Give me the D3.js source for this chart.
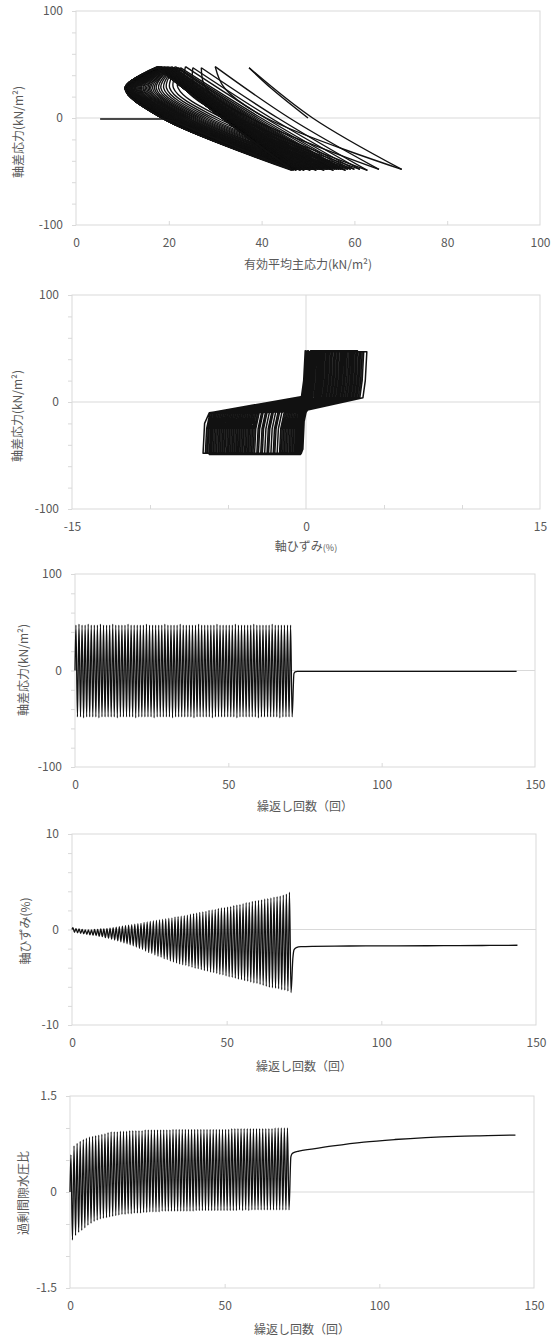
<!DOCTYPE html>
<html>
<head>
<meta charset="utf-8">
<script src="https://cdn.jsdelivr.net/npm/d3@7"></script>
<style>
body { margin: 0; background: #fff; }
</style>
</head>
<body>
<svg id="chart" width="560" height="1338"></svg>
<script>
// peaks of each loading cycle (71 cycles)
var qMax = [47,48,47,47,48,47,47,47,48,47, 47,47,48,47,47,47,47,48,47,47,
            47,47,47,48,47,47,47,47,47,48, 47,47,47,47,48,47,47,47,47,47,
            48,47,47,47,47,47,48,47,47,47, 47,47,48,47,47,47,47,47,48,47,
            47,47,47,47,48,47,47,47,47,47, 47];
var qMin = [-48,-48,-49,-48,-48,-48,-48,-49,-48,-48, -48,-48,-48,-49,-48,-48,-48,-48,-48,-49,
            -48,-48,-48,-48,-48,-49,-48,-48,-48,-48, -48,-49,-48,-48,-48,-48,-48,-48,-49,-48,
            -48,-48,-48,-48,-49,-48,-48,-48,-48,-48, -48,-48,-49,-48,-48,-48,-48,-48,-48,-49,
            -48,-48,-48,-48,-48,-48,-49,-48,-48,-48, -48];

// axial strain (%) at the top and bottom of each cycle
var strainMax = [0.2,0.1,0.05,0.0,-0.05,-0.05,-0.05,0.0,0.0,0.05,
                 0.05,0.1,0.15,0.2,0.25,0.3,0.35,0.4,0.45,0.5,
                 0.55,0.6,0.65,0.75,0.8,0.85,0.9,0.95,1.0,1.05,
                 1.1,1.15,1.2,1.3,1.35,1.4,1.45,1.5,1.6,1.65,
                 1.7,1.8,1.85,1.9,2.0,2.05,2.1,2.2,2.25,2.3,
                 2.35,2.4,2.5,2.55,2.6,2.7,2.8,2.85,2.95,3.0,
                 3.05,3.1,3.2,3.25,3.3,3.4,3.45,3.5,3.6,3.7,
                 3.9];
var strainMin = [-0.3,-0.35,-0.4,-0.45,-0.5,-0.55,-0.6,-0.65,-0.7,-0.75,
                 -0.85,-0.9,-1.0,-1.1,-1.2,-1.3,-1.4,-1.5,-1.6,-1.7,
                 -1.85,-2.0,-2.1,-2.25,-2.4,-2.5,-2.65,-2.8,-2.9,-3.05,
                 -3.15,-3.3,-3.4,-3.5,-3.6,-3.7,-3.75,-3.85,-3.95,-4.05,
                 -4.1,-4.2,-4.3,-4.35,-4.45,-4.5,-4.6,-4.7,-4.75,-4.85,
                 -4.95,-5.0,-5.1,-5.2,-5.25,-5.35,-5.4,-5.5,-5.6,-5.65,
                 -5.75,-5.85,-5.95,-6.05,-6.1,-6.15,-6.2,-6.3,-6.35,-6.45,
                 -6.6];

// excess pore water pressure ratio
var ruMax = [0.58,0.72,0.76,0.79,0.82,0.84,0.86,0.87,0.88,0.89,
             0.90,0.91,0.93,0.94,0.94,0.94,0.95,0.95,0.95,0.96,
             0.96,0.96,0.96,0.96,0.97,0.97,0.97,0.97,0.97,0.97,
             0.97,0.97,0.97,0.98,0.98,0.98,0.98,0.98,0.98,0.98,
             0.98,0.98,0.98,0.98,0.98,0.98,0.98,0.98,0.98,0.98,
             0.98,0.98,0.99,0.99,0.99,0.99,0.99,0.99,0.99,0.99,
             0.99,0.99,0.99,0.99,0.99,0.99,1.0,1.0,1.0,1.0,
             1.0];
var ruMin = [-0.75,-0.68,-0.63,-0.60,-0.56,-0.52,-0.49,-0.46,-0.44,-0.42,
             -0.41,-0.40,-0.39,-0.38,-0.37,-0.36,-0.35,-0.35,-0.34,-0.34,
             -0.33,-0.33,-0.33,-0.32,-0.32,-0.31,-0.31,-0.31,-0.31,-0.30,
             -0.30,-0.30,-0.30,-0.30,-0.30,-0.30,-0.30,-0.30,-0.30,-0.30,
             -0.29,-0.29,-0.29,-0.29,-0.29,-0.29,-0.29,-0.29,-0.29,-0.29,
             -0.29,-0.29,-0.29,-0.29,-0.28,-0.29,-0.28,-0.29,-0.28,-0.28,
             -0.28,-0.28,-0.28,-0.28,-0.28,-0.28,-0.28,-0.28,-0.28,-0.28,
             -0.28];

// effective mean principal stress p' (kN/m2) along each stress-path loop
var pTop = [37.3,30.0,27.0,25.2,23.6,22.5,22.0,21.7,21.4,21.2,
            21.0,20.8,20.6,20.5,20.3,20.2,20.0,19.9,19.8,19.7,
            19.6,19.5,19.4,19.3,19.2,19.1,19.0,18.95,18.9,18.85,
            18.8,18.75,18.7,18.65,18.6,18.55,18.5,18.45,18.4,18.35,
            18.3,18.25,18.2,18.15,18.1,18.05,18.0,17.95,17.9,17.9,
            17.85,17.85,17.8,17.8,17.75,17.75,17.7,17.7,17.65,17.65,
            17.6,17.6,17.6,17.55,17.55,17.55,17.5,17.5,17.5,17.5,
            17.5];
var pBottom = [70.2,65.3,62.8,61.2,60.0,59.2,58.6,58.1,57.6,57.1,
               56.7,56.3,55.9,55.5,55.1,54.8,54.4,54.1,53.8,53.5,
               53.2,52.9,52.6,52.3,52.1,51.8,51.6,51.3,51.1,50.9,
               50.7,50.5,50.3,50.1,49.9,49.7,49.6,49.4,49.2,49.1,
               48.9,48.8,48.6,48.5,48.4,48.2,48.1,48.0,47.9,47.8,
               47.7,47.6,47.5,47.4,47.3,47.2,47.1,47.0,47.0,46.9,
               46.8,46.8,46.7,46.7,46.6,46.6,46.5,46.5,46.4,46.4,
               46.3];
var pRiseZero = [50.0,41.0,37.5,35.0,33.0,31.5,30.5,29.6,28.8,28.1,
                 27.5,26.9,26.4,25.9,25.5,25.1,24.7,24.3,24.0,23.7,
                 23.4,23.1,22.8,22.6,22.3,22.1,21.9,21.7,21.5,21.3,
                 21.1,21.0,20.8,20.7,20.5,20.4,20.3,20.1,20.0,19.9,
                 19.8,19.7,19.6,19.5,19.4,19.3,19.3,19.2,19.1,19.1,
                 19.0,19.0,18.9,18.9,18.8,18.8,18.8,18.7,18.7,18.7,
                 18.6,18.6,18.6,18.6,18.5,18.5,18.5,18.5,18.5,18.5,
                 18.5];
var pNose = [42.0,32.0,28.0,25.5,23.5,22.0,21.0,20.2,19.5,18.9,
             18.3,17.8,17.3,16.9,16.5,16.1,15.8,15.5,15.2,14.9,
             14.6,14.4,14.1,13.9,13.7,13.5,13.3,13.1,12.9,12.8,
             12.6,12.5,12.3,12.2,12.1,12.0,11.9,11.8,11.7,11.6,
             11.5,11.4,11.4,11.3,11.2,11.2,11.1,11.1,11.0,11.0,
             10.9,10.9,10.9,10.8,10.8,10.8,10.8,10.7,10.7,10.7,
             10.7,10.7,10.6,10.6,10.6,10.6,10.6,10.6,10.6,10.6,
             10.6];
var pFallZero = [51.0,46.0,43.5,42.0,40.8,39.9,39.2,38.6,38.1,37.7,
                 37.3,36.9,36.6,36.3,36.0,35.7,35.5,35.2,35.0,34.8,
                 34.6,34.4,34.2,34.1,33.9,33.8,33.6,33.5,33.4,33.2,
                 33.1,33.0,32.9,32.8,32.7,32.6,32.5,32.4,32.4,32.3,
                 32.2,32.2,32.1,32.0,32.0,31.9,31.9,31.8,31.8,31.8,
                 31.7,31.7,31.7,31.6,31.6,31.6,31.6,31.6,31.5,31.5,
                 31.5,31.5,31.5,31.5,31.5,31.5,31.5,31.5,31.5,31.5,
                 31.5];
var noseQ = 28;

// after liquefaction (cycle 71 onward)
var postCycle = [71.4, 71.8, 72.5, 74, 78, 85, 95, 105, 115, 125, 135, 144];
var postQ = [-3, -1.5, -1, -1, -1, -1, -1, -1, -1, -1, -1, -1];
var postStrain = [-3.0, -2.1, -1.9, -1.8, -1.76, -1.74, -1.72, -1.71, -1.7, -1.69, -1.67, -1.65];
var postRu = [0.55, 0.6, 0.62, 0.64, 0.67, 0.72, 0.78, 0.82, 0.85, 0.87, 0.88, 0.89];
var postP = [21, 19.5, 18.8, 18, 16.5, 14, 11, 9, 7.5, 6.5, 5.8, 5.2];

// tick values
var cycleLabels = [0, 50, 100, 150];
var cycleTicks = [50, 100];
var qLabels = [-100, 0, 100];
var qTicks = [-100, -80, -60, -40, -20, 0, 20, 40, 60, 80, 100];

var FONT = '"Noto Sans CJK JP", "Noto Sans", sans-serif';
var GRID = "#d9d9d9";
var TEXT = "#595959";
var INK = "#111";

var svg = d3.select("#chart");

function drawPanel(p) {
  var x = d3.scaleLinear().domain(p.xDomain).range([p.left, p.right]);
  var y = d3.scaleLinear().domain(p.yDomain).range([p.bottom, p.top]);
  var g = svg.append("g");

  g.append("line")
    .attr("x1", p.left).attr("x2", p.right)
    .attr("y1", y(0)).attr("y2", y(0))
    .attr("stroke", GRID);
  if (p.zeroX) {
    g.append("line")
      .attr("x1", x(0)).attr("x2", x(0))
      .attr("y1", p.top).attr("y2", p.bottom)
      .attr("stroke", GRID);
  }
  g.append("rect")
    .attr("x", p.left).attr("y", p.top)
    .attr("width", p.right - p.left).attr("height", p.bottom - p.top)
    .attr("fill", "none").attr("stroke", GRID);

  // y ticks outside, labels at min / 0 / max
  g.append("g").attr("transform", `translate(${p.left},0)`)
    .call(d3.axisLeft(y).tickValues(p.yTicks).tickSize(4).tickFormat(""))
    .call(a => a.select(".domain").remove())
    .selectAll("line").attr("stroke", GRID);
  g.append("g").attr("transform", `translate(${p.left},0)`)
    .call(d3.axisLeft(y).tickValues(p.yLabels).tickSize(0).tickPadding(13).tickFormat(d => String(d)))
    .call(a => a.select(".domain").remove())
    .selectAll("text")
    .attr("fill", TEXT).style("font-size", "12px").style("font-family", FONT);

  // x ticks inside
  g.append("g").attr("transform", `translate(0,${p.bottom})`)
    .call(d3.axisBottom(x).tickValues(p.xTicks).tickSize(-4).tickFormat(""))
    .call(a => a.select(".domain").remove())
    .selectAll("line").attr("stroke", GRID);
  g.append("g").attr("transform", `translate(0,${p.bottom})`)
    .call(d3.axisBottom(x).tickValues(p.xLabels).tickSize(0).tickFormat(d => String(d)))
    .call(a => a.select(".domain").remove())
    .selectAll("text")
    .attr("y", 18).attr("dy", "0.35em")
    .attr("fill", TEXT).style("font-size", "12px").style("font-family", FONT);

  // axis titles
  var xt = g.append("text")
    .attr("x", p.xTitleX).attr("y", p.bottom + p.xTitleDy)
    .attr("dy", "0.35em").attr("text-anchor", "middle")
    .attr("fill", TEXT).style("font-size", "12px").style("font-family", FONT)
    .text(p.xTitle);
  if (p.xTitleSmall) {
    xt.append("tspan").style("font-size", "9px").text(p.xTitleSmall);
  }
  g.append("text")
    .attr("transform", `translate(${p.yTitleX},${p.yTitleY}) rotate(-90)`)
    .attr("dy", "0.35em").attr("text-anchor", "middle")
    .attr("fill", TEXT).style("font-size", "12px").style("font-family", FONT)
    .text(p.yTitle);

  return {g: g, x: x, y: y};
}

function clamp(v, lo, hi) { return Math.max(lo, Math.min(hi, v)); }
var last = qMax.length - 1;

// ---- 1. stress path ----
var c1 = drawPanel({
  left: 76, right: 540, top: 11, bottom: 225,
  xDomain: [0, 100], yDomain: [-100, 100],
  xLabels: [0, 20, 40, 60, 80, 100], xTicks: [20, 40, 60, 80],
  yLabels: qLabels, yTicks: qTicks,
  xTitle: "有効平均主応力(kN/m²)", xTitleX: 308, xTitleDy: 40,
  yTitle: "軸差応力(kN/m²)", yTitleX: 19, yTitleY: 132
});
// loading branches (trough -> top) and unloading branches (top -> trough)
var pieces1 = [];
for (var i = 0; i <= last; i++) {
  var rise = i === 0 ? [[pRiseZero[0], 0]] : [[pBottom[i - 1], qMin[i - 1]], [pRiseZero[i], 0]];
  rise.push([pNose[i], noseQ], [pTop[i], qMax[i]]);
  pieces1.push(rise);
  pieces1.push([[pTop[i], qMax[i]], [pFallZero[i], 0], [pBottom[i], qMin[i]]]);
}
var line1 = d3.line().x(d => c1.x(d[0])).y(d => c1.y(d[1])).curve(d3.curveCatmullRom.alpha(0.5));
c1.g.selectAll(".loop").data(pieces1).enter().append("path")
  .attr("class", "loop").attr("d", line1)
  .attr("fill", "none").attr("stroke", INK).attr("stroke-width", 1.4);
var tail1 = [[pBottom[last], qMin[last]]].concat(postP.map((v, k) => [v, postQ[k]]));
c1.g.append("path")
  .attr("d", d3.line().x(d => c1.x(d[0])).y(d => c1.y(d[1]))(tail1))
  .attr("fill", "none").attr("stroke", INK).attr("stroke-width", 1.6);

// ---- 2. stress-strain ----
var c2 = drawPanel({
  left: 72, right: 540, top: 295, bottom: 509,
  xDomain: [-15, 15], yDomain: [-100, 100], zeroX: true,
  xLabels: [-15, 0, 15], xTicks: [-10, -5, 5, 10],
  yLabels: qLabels, yTicks: qTicks,
  xTitle: "軸ひずみ", xTitleSmall: "(%)", xTitleX: 306, xTitleDy: 38,
  yTitle: "軸差応力(kN/m²)", yTitleX: 17.5, yTitleY: 416
});
var pts2 = [[0, 0]];
for (var i = 0; i <= last; i++) {
  var lo = i === 0 ? strainMin[0] : strainMin[i - 1];
  var hi = strainMax[i];
  var up = [[lo + 0.08, -25], [lo + 0.3, -10], [-0.15, 5.5], [0.02, 10], [0.1, 42], [0.3, qMax[i]], [hi, qMax[i]]];
  if (i === 0) up = up.slice(3);
  up.forEach(d => pts2.push([clamp(d[0], lo, hi), d[1]]));
  var lo2 = strainMin[i];
  var down = [[hi - 0.1, 20], [hi - 0.25, 4], [0.1, -7.5], [-0.1, -12], [-0.2, -44], [-0.35, qMin[i]], [lo2, qMin[i]]];
  down.forEach(d => pts2.push([clamp(d[0], lo2, hi), d[1]]));
}
pts2.push([strainMin[last] + 0.1, -20], [strainMin[last] + 0.4, -10]);
postStrain.forEach((v, k) => pts2.push([v, postQ[k]]));
c2.g.append("path")
  .attr("d", d3.line().x(d => c2.x(d[0])).y(d => c2.y(d[1]))(pts2))
  .attr("fill", "none").attr("stroke", INK).attr("stroke-width", 1.5)
  .attr("stroke-linejoin", "round");

// ---- 3-5. time histories ----
function history(c, maxs, mins, postVals) {
  var pts = [[0, 0]];
  for (var i = 0; i < maxs.length; i++) {
    pts.push([i + 0.3, maxs[i]], [i + 0.8, mins[i]]);
  }
  postCycle.forEach((v, k) => pts.push([v, postVals[k]]));
  c.g.append("path")
    .attr("d", d3.line().x(d => c.x(d[0])).y(d => c.y(d[1])).curve(d3.curveMonotoneX)(pts))
    .attr("fill", "none").attr("stroke", INK).attr("stroke-width", 1.3);
}

var c3 = drawPanel({
  left: 75, right: 535, top: 574, bottom: 767,
  xDomain: [0, 150], yDomain: [-100, 100],
  xLabels: cycleLabels, xTicks: cycleTicks,
  yLabels: qLabels, yTicks: qTicks,
  xTitle: "繰返し回数（回）", xTitleX: 305, xTitleDy: 40,
  yTitle: "軸差応力(kN/m²)", yTitleX: 24, yTitleY: 670
});
history(c3, qMax, qMin, postQ);

var c4 = drawPanel({
  left: 72, right: 536, top: 834, bottom: 1025,
  xDomain: [0, 150], yDomain: [-10, 10],
  xLabels: cycleLabels, xTicks: cycleTicks,
  yLabels: [-10, 0, 10], yTicks: [-10, -8, -6, -4, -2, 0, 2, 4, 6, 8, 10],
  xTitle: "繰返し回数（回）", xTitleX: 304, xTitleDy: 42,
  yTitle: "軸ひずみ(%)", yTitleX: 25.5, yTitleY: 931
});
history(c4, strainMax, strainMin, postStrain);

var c5 = drawPanel({
  left: 70, right: 534, top: 1096, bottom: 1288,
  xDomain: [0, 150], yDomain: [-1.5, 1.5],
  xLabels: cycleLabels, xTicks: cycleTicks,
  yLabels: [-1.5, 0, 1.5], yTicks: [-1.5, -1, -0.5, 0, 0.5, 1, 1.5],
  xTitle: "繰返し回数（回）", xTitleX: 302, xTitleDy: 42,
  yTitle: "過剰間隙水圧比", yTitleX: 23.5, yTitleY: 1193
});
history(c5, ruMax, ruMin, postRu);
</script>
</body>
</html>
